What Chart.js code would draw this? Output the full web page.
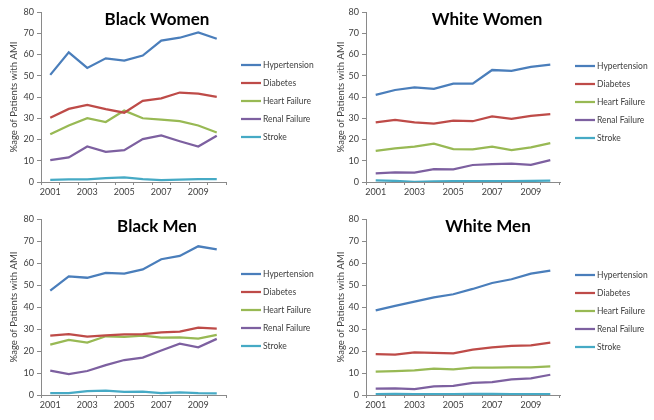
<!DOCTYPE html>
<html>
<head>
<meta charset="utf-8">
<script src="https://cdn.jsdelivr.net/npm/chart.js@4.4.0/dist/chart.umd.min.js"></script>
<style>
  body { margin: 0; background: #fff; }
  #wrap { position: relative; width: 654px; height: 420px; }
  .panel { position: absolute; width: 327px; height: 210px; }
</style>
</head>
<body>
<div id="wrap">
  <div class="panel" style="left:0;top:0"><canvas id="bw"></canvas></div>
  <div class="panel" style="left:327px;top:0"><canvas id="ww"></canvas></div>
  <div class="panel" style="left:0;top:210px"><canvas id="bm"></canvas></div>
  <div class="panel" style="left:327px;top:210px"><canvas id="wm"></canvas></div>
</div>
<script>
// data (% of patients with AMI)
const years = ['2001', '2002', '2003', '2004', '2005', '2006', '2007', '2008', '2009', '2010'];
const seriesNames = ['Hypertension', 'Diabetes', 'Heart Failure', 'Renal Failure', 'Stroke'];
const seriesColors = ['#4A7EBB', '#BE4B48', '#98B954', '#7D60A0', '#46AAC5'];

const blackWomen = [
  [50.4, 61.0, 53.7, 58.2, 57.1, 59.5, 66.5, 67.9, 70.4, 67.4], // Hypertension
  [30.2, 34.4, 36.3, 34.3, 32.6, 38.2, 39.4, 42.1, 41.6, 40.1], // Diabetes
  [22.5, 26.6, 30.0, 28.2, 33.6, 30.0, 29.3, 28.6, 26.6, 23.3], // Heart Failure
  [10.3, 11.6, 16.7, 14.2, 15.0, 20.2, 21.9, 19.2, 16.7, 21.8], // Renal Failure
  [1.0, 1.2, 1.2, 1.8, 2.2, 1.3, 0.9, 1.1, 1.3, 1.3]            // Stroke
];
const whiteWomen = [
  [41.0, 43.3, 44.5, 43.8, 46.3, 46.3, 52.7, 52.3, 54.2, 55.2],
  [28.1, 29.2, 28.1, 27.5, 28.9, 28.6, 30.9, 29.7, 31.1, 31.9],
  [14.7, 15.8, 16.7, 18.0, 15.5, 15.3, 16.6, 15.0, 16.3, 18.3],
  [4.1, 4.5, 4.4, 6.1, 5.9, 8.0, 8.4, 8.6, 8.1, 10.3],
  [0.8, 0.5, 0.1, 0.3, 0.4, 0.4, 0.4, 0.4, 0.5, 0.7]
];
const blackMen = [
  [47.4, 53.9, 53.3, 55.5, 55.2, 57.1, 61.7, 63.2, 67.6, 66.2],
  [27.0, 27.7, 26.5, 27.1, 27.6, 27.7, 28.5, 28.8, 30.6, 30.2],
  [22.9, 25.0, 23.8, 26.7, 26.4, 27.0, 26.1, 26.2, 25.6, 27.3],
  [11.1, 9.5, 10.9, 13.6, 15.9, 17.0, 20.2, 23.3, 21.7, 25.5],
  [0.8, 0.8, 1.8, 2.0, 1.4, 1.5, 0.8, 1.2, 0.8, 0.7]
];
const whiteMen = [
  [38.5, 40.5, 42.4, 44.4, 45.8, 48.2, 50.9, 52.6, 55.2, 56.5],
  [18.6, 18.3, 19.4, 19.2, 18.9, 20.6, 21.7, 22.3, 22.6, 23.8],
  [10.6, 10.9, 11.2, 12.0, 11.7, 12.4, 12.4, 12.6, 12.6, 13.0],
  [2.9, 3.0, 2.7, 3.9, 4.2, 5.5, 5.9, 7.1, 7.6, 9.2],
  [0.4, 0.5, 0.4, 0.4, 0.4, 0.5, 0.5, 0.4, 0.4, 0.4]
];

const axisColor = '#8a8a8a';
const textColor = '#404040';

// big bold title inside the plot area + line legend on the right
const panelDecor = {
  id: 'panelDecor',
  afterDraw(chart, args, opts) {
    const c = chart.ctx;
    c.save();
    c.font = 'bold 17px Lato';
    c.fillStyle = '#000';
    c.textAlign = 'center';
    c.textBaseline = 'middle';
    c.fillText(opts.text, opts.tx, opts.ty);

    // legend
    const x0 = chart.chartArea.right + opts.legGap;
    c.font = '8.5px Lato';
    c.textAlign = 'left';
    c.fillStyle = textColor;
    chart.data.datasets.forEach((ds, i) => {
      const y = opts.legY + i * 18;
      c.strokeStyle = ds.borderColor;
      c.lineWidth = ds.borderWidth;
      c.beginPath();
      c.moveTo(x0, y);
      c.lineTo(x0 + 20, y);
      c.stroke();
      c.fillText(ds.label, x0 + 22, y);
    });
    c.restore();
  }
};

function makeChart(id, title, rows, lay) {
  const ctx = document.getElementById(id).getContext('2d');
  return new Chart(ctx, {
    type: 'line',
    data: {
      labels: years,
      datasets: rows.map((vals, i) => ({
        label: seriesNames[i],
        data: vals,
        borderColor: seriesColors[i],
        backgroundColor: seriesColors[i],
        borderWidth: 2.25,
        pointRadius: 0,
        tension: 0
      }))
    },
    options: {
      responsive: true,
      maintainAspectRatio: false,
      animation: false,
      layout: { padding: { top: lay.top, right: lay.right, bottom: 0, left: 0 } },
      plugins: {
        tooltip: { enabled: false },
        legend: { display: false },
        panelDecor: { text: title, tx: lay.tx, ty: lay.ty, legGap: 15, legY: lay.legY }
      },
      scales: {
        x: {
          offset: true,
          afterFit: s => { s.height = lay.xh; },
          grid: { display: true, offset: true, drawOnChartArea: false, tickLength: 3, color: axisColor },
          border: { display: true, color: axisColor },
          ticks: {
            autoSkip: false,
            maxRotation: 0,
            padding: 2,
            color: textColor,
            font: { family: 'Lato', size: 9 },
            callback: (v, i) => (i % 2 === 0 ? years[i] : '')
          }
        },
        y: {
          min: 0,
          max: 80,
          afterFit: s => { s.width = lay.yw; },
          grid: { display: true, drawOnChartArea: false, tickLength: 4, color: axisColor },
          border: { display: true, color: axisColor },
          ticks: {
            stepSize: 10,
            padding: 3,
            color: textColor,
            font: { family: 'Lato', size: 9 }
          },
          title: {
            display: true,
            text: '%age of Patients with AMI',
            color: textColor,
            font: { family: 'Lato', size: 9.5 },
            padding: { top: 8, bottom: 2 }
          }
        }
      }
    },
    plugins: [panelDecor]
  });
}

makeChart('bw', 'Black Women', blackWomen, { top: 12, right: 101, xh: 28, yw: 41, tx: 157, ty: 20, legY: 65 });
makeChart('ww', 'White Women', whiteWomen, { top: 12, right: 94, xh: 28, yw: 39, tx: 160, ty: 20, legY: 66 });
makeChart('bm', 'Black Men', blackMen, { top: 9, right: 101, xh: 25, yw: 41, tx: 157, ty: 17, legY: 64 });
makeChart('wm', 'White Men', whiteMen, { top: 9, right: 94, xh: 25, yw: 39, tx: 161, ty: 17, legY: 65 });
</script>
</body>
</html>
